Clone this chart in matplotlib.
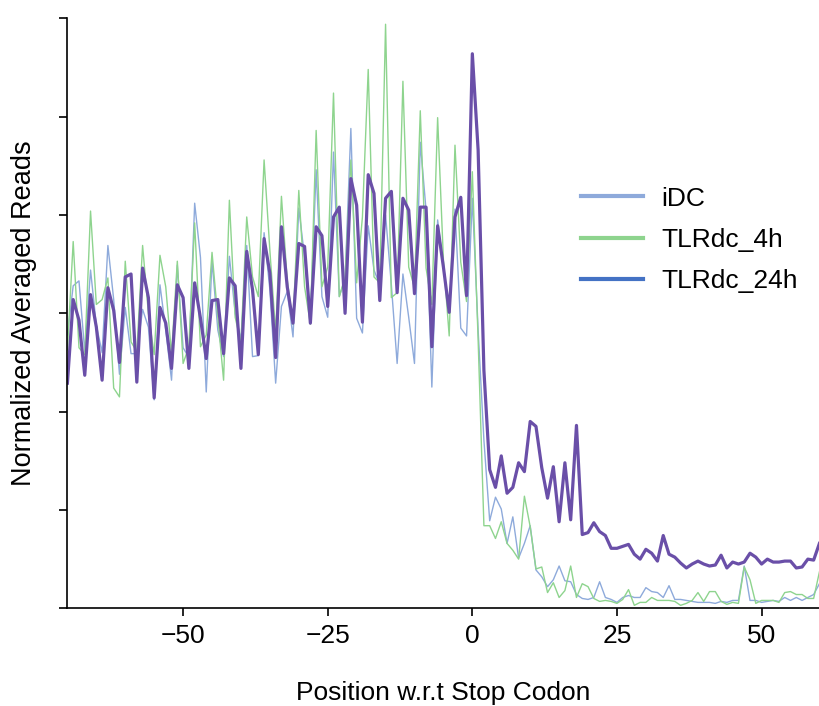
import matplotlib.pyplot as plt
from matplotlib.lines import Line2D
import numpy as np

plt.rcParams['font.family'] = ['Liberation Sans', 'DejaVu Sans']

# positions relative to the stop codon
pos = np.arange(-70, 61)

idc = [2.78, 3.28, 3.33, 2.61, 3.44, 2.88, 2.60, 3.69, 3.14, 2.38,
       3.06, 2.59, 2.59, 3.04, 2.86, 2.12, 3.29, 2.83, 2.32, 3.49,
       2.65, 2.55, 4.12, 3.57, 2.20, 3.54, 2.83, 2.56, 3.58, 3.00,
       2.73, 3.69, 2.56, 2.57, 3.82, 3.24, 2.29, 3.07, 3.22, 2.76,
       4.07, 3.57, 2.95, 4.46, 3.17, 2.96, 4.64, 3.17, 3.35, 4.88,
       2.95, 2.80, 3.89, 3.44, 3.29, 4.00, 3.29, 2.49, 3.40, 2.96,
       2.49, 4.74, 4.05, 2.25, 3.95, 3.47, 3.03, 4.06, 2.85, 2.77,
       4.17, 2.83, 1.71, 0.89, 1.13, 1.01, 0.66, 0.93, 0.51, 0.66,
       0.84, 0.39, 0.32, 0.22, 0.29, 0.43, 0.28, 0.27, 0.14, 0.10,
       0.09, 0.11, 0.27, 0.11, 0.09, 0.06, 0.11, 0.13, 0.11, 0.11,
       0.21, 0.17, 0.16, 0.11, 0.23, 0.09, 0.09, 0.08, 0.07, 0.06,
       0.06, 0.06, 0.05, 0.07, 0.06, 0.08, 0.08, 0.43, 0.08, 0.08,
       0.06, 0.07, 0.08, 0.07, 0.11, 0.08, 0.11, 0.08, 0.11, 0.14,
       0.25]

tlr_4h = [2.63, 3.73, 2.65, 2.58, 4.04, 3.09, 3.14, 3.36, 2.24, 2.15,
          3.53, 2.71, 2.61, 3.69, 3.00, 2.58, 3.59, 3.27, 2.58, 3.53,
          2.49, 2.66, 3.92, 2.66, 2.78, 3.62, 2.96, 2.32, 4.15, 2.96,
          2.70, 3.98, 3.37, 3.17, 4.56, 3.64, 2.80, 4.19, 3.34, 2.89,
          4.25, 3.27, 2.89, 4.86, 3.27, 3.47, 5.24, 3.17, 3.37, 4.56,
          3.31, 3.98, 5.48, 3.37, 3.31, 5.94, 3.16, 3.21, 5.36, 3.47,
          3.26, 5.06, 3.46, 3.09, 4.99, 3.54, 2.77, 4.71, 3.52, 3.12,
          4.44, 2.73, 0.84, 0.84, 0.71, 0.88, 0.66, 0.59, 0.50, 1.14,
          0.83, 0.40, 0.42, 0.16, 0.26, 0.11, 0.18, 0.43, 0.11, 0.25,
          0.22, 0.10, 0.07, 0.08, 0.07, 0.05, 0.09, 0.19, 0.03, 0.06,
          0.06, 0.11, 0.08, 0.08, 0.08, 0.07, 0.03, 0.05, 0.08, 0.16,
          0.07, 0.17, 0.17, 0.07, 0.04, 0.06, 0.05, 0.42, 0.29, 0.05,
          0.08, 0.08, 0.08, 0.06, 0.16, 0.17, 0.14, 0.14, 0.10, 0.10,
          0.37]

tlr_24h = [2.29, 3.14, 2.93, 2.37, 3.19, 2.86, 2.32, 3.26, 3.03, 2.50,
           3.37, 3.40, 2.30, 3.46, 3.16, 2.14, 3.06, 2.90, 2.44, 3.29,
           3.16, 2.44, 3.31, 2.95, 2.54, 3.13, 3.14, 2.59, 3.36, 3.28,
           2.44, 3.63, 3.24, 2.58, 3.76, 3.41, 2.55, 3.88, 3.27, 2.90,
           3.71, 3.68, 2.90, 3.88, 3.79, 3.07, 3.98, 4.08, 3.00, 4.37,
           4.10, 2.91, 4.41, 4.22, 3.13, 4.17, 4.24, 3.21, 4.17, 4.05,
           3.20, 4.08, 4.08, 2.66, 3.89, 3.47, 3.01, 3.98, 4.18, 3.18,
           5.64, 4.66, 2.42, 1.41, 1.23, 1.55, 1.17, 1.23, 1.48, 1.39,
           1.90, 1.85, 1.43, 1.12, 1.44, 0.88, 1.48, 0.90, 1.86, 0.75,
           0.77, 0.87, 0.78, 0.74, 0.61, 0.61, 0.63, 0.65, 0.55, 0.50,
           0.60, 0.56, 0.48, 0.74, 0.55, 0.52, 0.46, 0.41, 0.45, 0.48,
           0.45, 0.43, 0.44, 0.54, 0.41, 0.47, 0.45, 0.47, 0.56, 0.52,
           0.45, 0.50, 0.47, 0.47, 0.48, 0.48, 0.41, 0.42, 0.50, 0.49,
           0.66]

labels = ['iDC', 'TLRdc_4h', 'TLRdc_24h']
legend_colors = ['#8eaadb', '#8ed48e', '#4472c4']

fig = plt.figure(figsize=(8.2, 7.06), dpi=100)
ax = fig.add_axes([0.0822, 0.1384, 0.9171, 0.8356])

ax.plot(pos, idc, color='#8eaadb', lw=1.0)
ax.plot(pos, tlr_4h, color='#8ed48e', lw=1.0)
ax.plot(pos, tlr_24h, color='#6a4fa8', lw=2.3)

ax.set_xlim(-70, 60)
ax.set_ylim(0, 6)
ax.set_xticks([-50, -25, 0, 25, 50])
ax.set_yticks(range(7))
ax.set_yticklabels([])
ax.spines['top'].set_visible(False)
ax.spines['right'].set_visible(False)
for s in ['left', 'bottom']:
    ax.spines[s].set_linewidth(1.2)
ax.tick_params(direction='out', length=6, width=1.2, labelsize=19, pad=5)

ax.set_xlabel('Position w.r.t Stop Codon', fontsize=19, labelpad=24)
ax.set_ylabel('Normalized Averaged Reads', fontsize=19.5, labelpad=11)

handles = [Line2D([], [], color=c, lw=3) for c in legend_colors]
fig.legend(handles, labels, loc='center left', bbox_to_anchor=(568/820, 0.66),
           frameon=False, fontsize=19, borderpad=0, handlelength=2.35,
           handletextpad=0.7, labelspacing=0.66)

fig.savefig('out.png', dpi=100)
